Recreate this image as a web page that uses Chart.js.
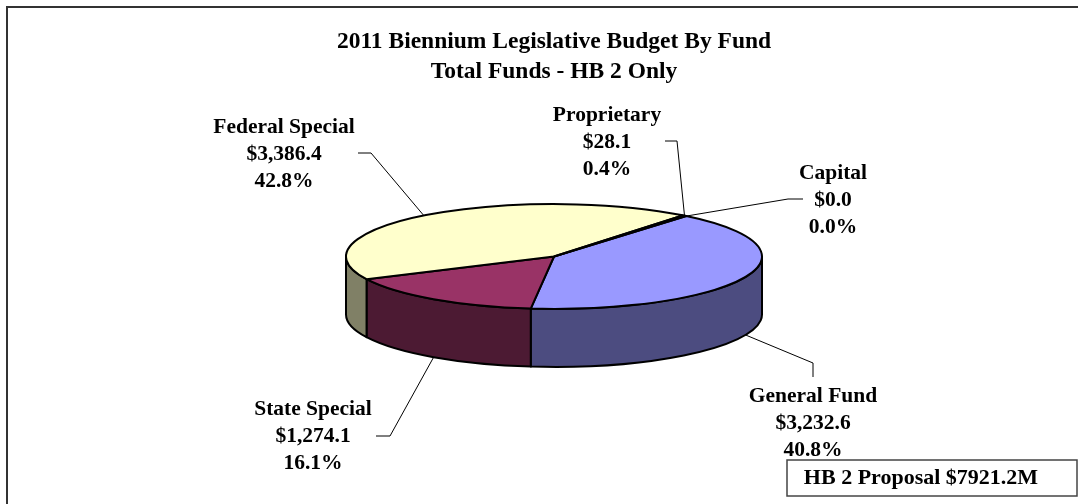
<!DOCTYPE html>
<html>
<head>
<meta charset="utf-8">
<script src="https://cdn.jsdelivr.net/npm/chart.js@4.4.0/dist/chart.umd.min.js"></script>
<style>
  html, body { margin: 0; padding: 0; background: #fff; overflow: hidden; }
  #wrap { position: relative; width: 1078px; height: 504px; }
</style>
</head>
<body>
<div id="wrap"><canvas id="fund-chart"></canvas></div>
<script>
const funds      = ['General Fund', 'State Special', 'Federal Special', 'Proprietary', 'Capital'];
const amounts    = [3232.6, 1274.1, 3386.4, 28.1, 0.0];
const topColors  = ['#9999ff', '#993366', '#ffffcc', '#ccffff', '#660066'];
const sideColors = ['#4c4c80', '#4c1a33', '#808066', '#668080', '#330033'];
const titleLines = ['2011 Biennium Legislative Budget By Fund', 'Total Funds - HB 2 Only'];

// where each label sits (centre of its first line) and the elbow of its leader line
const labelSpots = [
  { x: 813, y: 396, leader: [[813, 377], [813, 363]] },
  { x: 313, y: 409, leader: [[376, 436], [390, 436]] },
  { x: 284, y: 127, leader: [[358, 153], [371, 153]] },
  { x: 607, y: 115, leader: [[665, 141], [677, 141]] },
  { x: 833, y: 173, leader: [[803, 199], [788, 199]] }
];

const FONT  = '"Liberation Serif", "Times New Roman", serif';
const TILT  = 0.252;
const DEPTH = 58;

const total = amounts.reduce((s, v) => s + v, 0);

function fmtAmount(v) {
  return '$' + v.toLocaleString('en-US', { minimumFractionDigits: 1, maximumFractionDigits: 1 });
}

/* ── 3D pie drawn from the library's arcs ── */
const pie3d = {
  id: 'pie3d',
  beforeDatasetsDraw(chart) {
    const ctx  = chart.ctx;
    const arcs = chart.getDatasetMeta(0).data;
    const cx = arcs[0].x, cy = arcs[0].y;
    const rx = arcs[0].outerRadius, ry = rx * TILT;

    ctx.save();
    ctx.lineWidth = 2;
    ctx.strokeStyle = '#000';
    ctx.lineJoin = 'round';

    // side walls, only the front half shows
    arcs.forEach((arc, i) => {
      for (const shift of [-2 * Math.PI, 0, 2 * Math.PI]) {
        const a0 = Math.max(arc.startAngle, shift);
        const a1 = Math.min(arc.endAngle, shift + Math.PI);
        if (a1 <= a0) continue;
        ctx.beginPath();
        ctx.ellipse(cx, cy, rx, ry, 0, a0, a1);
        ctx.lineTo(cx + rx * Math.cos(a1), cy + DEPTH + ry * Math.sin(a1));
        ctx.ellipse(cx, cy + DEPTH, rx, ry, 0, a1, a0, true);
        ctx.closePath();
        ctx.fillStyle = sideColors[i];
        ctx.fill();
        ctx.stroke();
      }
    });

    // top faces
    arcs.forEach(arc => {
      if (arc.endAngle - arc.startAngle <= 0) return;
      ctx.beginPath();
      ctx.moveTo(cx, cy);
      ctx.ellipse(cx, cy, rx, ry, 0, arc.startAngle, arc.endAngle);
      ctx.closePath();
      ctx.fillStyle = arc.options.backgroundColor;
      ctx.fill();
      ctx.stroke();
    });

    // leader lines + labels
    ctx.lineWidth = 1;
    ctx.font = 'bold 21.5px ' + FONT;
    ctx.textAlign = 'center';
    ctx.textBaseline = 'middle';
    ctx.fillStyle = '#000';
    arcs.forEach((arc, i) => {
      const spot = labelSpots[i];
      const mid = (arc.startAngle + arc.endAngle) / 2;
      const px = cx + rx * Math.cos(mid);
      const py = cy + ry * Math.sin(mid) + (Math.sin(mid) > 0 ? DEPTH : 0);
      ctx.beginPath();
      ctx.moveTo(spot.leader[0][0], spot.leader[0][1]);
      ctx.lineTo(spot.leader[1][0], spot.leader[1][1]);
      ctx.lineTo(px, py);
      ctx.stroke();

      const pct = (amounts[i] / total * 100).toFixed(1) + '%';
      [funds[i], fmtAmount(amounts[i]), pct].forEach((t, k) => {
        ctx.fillText(t, spot.x, spot.y + k * 27);
      });
    });

    ctx.restore();
    return false;
  },
  afterDraw(chart) {
    const ctx = chart.ctx;
    ctx.save();
    // outer frame (runs off the right/bottom edge)
    ctx.strokeStyle = '#333';
    ctx.lineWidth = 2;
    ctx.strokeRect(7, 7, 1200, 600);

    // total box
    ctx.fillStyle = '#fff';
    ctx.fillRect(787, 460, 290, 36);
    ctx.lineWidth = 1.5;
    ctx.strokeStyle = '#444';
    ctx.strokeRect(787, 460, 290, 36);
    ctx.fillStyle = '#000';
    ctx.font = 'bold 22px ' + FONT;
    ctx.textAlign = 'center';
    ctx.textBaseline = 'middle';
    ctx.fillText('HB 2 Proposal $' + total.toFixed(1) + 'M', 921, 478);
    ctx.restore();
  }
};

new Chart(document.getElementById('fund-chart'), {
  type: 'pie',
  data: {
    labels: funds,
    datasets: [{
      data: amounts,
      backgroundColor: topColors,
      borderWidth: 0,
      radius: 208
    }]
  },
  options: {
    responsive: true,
    maintainAspectRatio: false,
    animation: false,
    events: [],
    rotation: 39.5,
    layout: { padding: { left: 40, right: 10, top: 0, bottom: 78 } },
    plugins: {
      legend: { display: false },
      tooltip: { enabled: false },
      title: {
        display: true,
        text: titleLines,
        color: '#000',
        font: { family: FONT, size: 23.5, weight: 'bold', lineHeight: 1.277 },
        padding: { top: 27, bottom: 0 }
      }
    }
  },
  plugins: [pie3d]
});
</script>
</body>
</html>
